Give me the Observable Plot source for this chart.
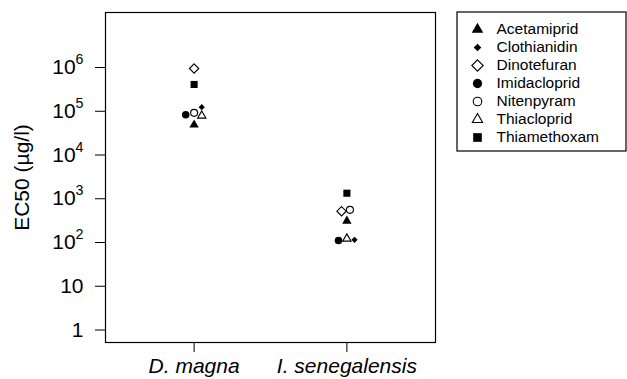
<!DOCTYPE html>
<html><head><meta charset="utf-8">
<script src="https://cdn.jsdelivr.net/npm/d3@7"></script>
<script src="https://cdn.jsdelivr.net/npm/@observablehq/plot@0.6"></script>
<style>
body{margin:0;background:#fff;}
#wrap{position:relative;width:627px;height:379px;overflow:hidden;}
#wrap svg{position:absolute;overflow:visible;}
[aria-label="x-axis tick label"] text{font-style:italic;}
</style></head><body><div id="wrap"></div>
<script>
const species = ["D. magna", "I. senegalensis"];
const compounds = ["Acetamiprid", "Clothianidin", "Dinotefuran", "Imidacloprid", "Nitenpyram", "Thiacloprid", "Thiamethoxam"];
const ec50Magna = [49000, 124000, 950000, 83000, 92000, 79000, 410000];
const ec50Senegalensis = [310, 115, 519, 111, 558, 122, 1340];
const jitterMagna = [0, 0.05, 0, -0.055, 0, 0.05, 0];
const jitterSenegalensis = [0, 0.05, -0.035, -0.055, 0.02, 0, 0];
const yTicks = [1, 10, 100, 1000, 10000, 100000, 1000000];
const yLabel = "EC50 (µg/l)";

const rows = [];
[ec50Magna, ec50Senegalensis].forEach((vals, i) => {
  const jit = i === 0 ? jitterMagna : jitterSenegalensis;
  compounds.forEach((c, j) => rows.push({species: species[i], pos: i + 1 + jit[j], compound: c, ec50: vals[j]}));
});

const styles = {
  Acetamiprid: {symbol: "triangle", fill: "black", stroke: "none", r: 3.5},
  Clothianidin: {symbol: "diamond2", fill: "black", stroke: "none", r: 2.8},
  Dinotefuran: {symbol: "diamond2", fill: "none", stroke: "black", r: 4.2},
  Imidacloprid: {symbol: "circle", fill: "black", stroke: "none", r: 3.8},
  Nitenpyram: {symbol: "circle", fill: "none", stroke: "black", r: 3.5},
  Thiacloprid: {symbol: "triangle2", fill: "none", stroke: "black", r: 4.0},
  Thiamethoxam: {symbol: "square", fill: "black", stroke: "none", r: 4.0}
};
const font = '"Liberation Sans", Arial, sans-serif';

const plot = Plot.plot({
  width: 627, height: 379,
  marginLeft: 105, marginRight: 192, marginTop: 12, marginBottom: 37,
  style: {fontFamily: font, fontSize: "21px", color: "black", background: "white"},
  x: {type: "linear", domain: [0.42, 2.58]},
  y: {type: "log", domain: [0.518, 1.81e7]},
  marks: [
    Plot.frame({stroke: "black", strokeWidth: 1.2}),
    Plot.axisY({ticks: yTicks, tickSize: 10, tickPadding: 12, fontSize: 21,
      tickFormat: d => d <= 10 ? String(d) : "10^" + Math.round(Math.log10(d)),
      label: yLabel, labelAnchor: "center", labelArrow: "none", labelOffset: 91}),
    Plot.axisX({ticks: [1, 2], tickSize: 10, tickPadding: 6, fontSize: 21,
      tickFormat: d => species[d - 1], label: null}),
    ...compounds.map(c => Plot.dot(rows.filter(d => d.compound === c),
      {x: "pos", y: "ec50", ...styles[c], strokeWidth: 1.1}))
  ]
});
plot.style.left = "0px"; plot.style.top = "0px";

d3.select(plot).selectAll('[aria-label="y-axis tick label"] text').each(function () {
  const m = /^10\^(\d+)$/.exec(this.textContent);
  if (m) {
    const s = d3.select(this);
    s.text("10");
    s.append("tspan").attr("dy", "-0.7em").attr("font-size", "0.68em").text(m[1]);
  }
});

const legend = Plot.plot({
  width: 170, height: 140, margin: 0,
  style: {fontFamily: font, fontSize: "15.5px", color: "black", background: "white"},
  y: {type: "point", domain: compounds, range: [15, 128], padding: 0, axis: null},
  marks: [
    Plot.frame({stroke: "black", strokeWidth: 1.2, inset: 0.5}),
    ...compounds.map(c => Plot.dot([c], {y: d => d, frameAnchor: "left", dx: 21,
      ...styles[c], r: styles[c].r * 1.22, strokeWidth: 1.1})),
    Plot.text(compounds, {y: d => d, text: d => d, frameAnchor: "left", dx: 40, textAnchor: "start", fontSize: 15.5})
  ]
});
legend.style.left = "456px"; legend.style.top = "11px";

const wrap = document.getElementById("wrap");
wrap.appendChild(plot);
wrap.appendChild(legend);
</script></body></html>
